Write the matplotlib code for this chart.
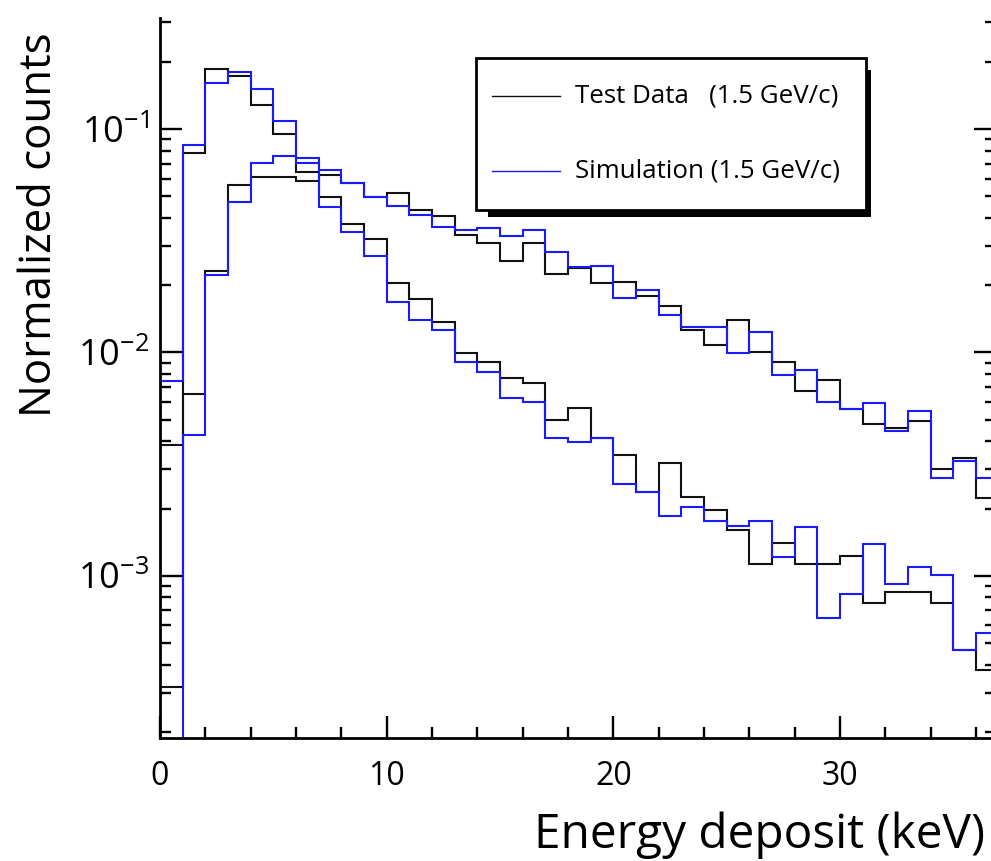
import numpy as np
import matplotlib
matplotlib.use("Agg")
import matplotlib.pyplot as plt
from matplotlib.patches import Rectangle
from matplotlib.lines import Line2D
from matplotlib.ticker import FixedLocator, MultipleLocator

plt.rcParams["font.family"] = ["Open Sans", "DejaVu Sans"]
plt.rcParams["mathtext.fontset"] = "custom"
plt.rcParams["mathtext.rm"] = "Open Sans"
plt.rcParams["mathtext.it"] = "Open Sans:italic"
plt.rcParams["mathtext.bf"] = "Open Sans:bold"

# 1 keV bins from 0 to 37 keV
bin_edges = np.arange(0, 38)

# broad distribution
test_wide = [3.19e-4, 6.53e-3, 0.0231, 0.0561, 0.0610, 0.0611, 0.0587, 0.0622,
             0.0572, 0.0496, 0.0515, 0.0435, 0.0406, 0.0334, 0.0310, 0.0257,
             0.0308, 0.0224, 0.0238, 0.0204, 0.0206, 0.0179, 0.0162, 0.0126,
             0.0108, 0.0140, 0.0100, 0.00908, 0.00672, 0.00751, 0.00556,
             0.00479, 0.00461, 0.00494, 0.00302, 0.00336, 0.00224]
sim_wide = [1e-5, 4.27e-3, 0.0222, 0.0470, 0.0704, 0.0759, 0.0739, 0.0657,
            0.0575, 0.0496, 0.0452, 0.0412, 0.0364, 0.0353, 0.0360, 0.0333,
            0.0355, 0.0282, 0.0242, 0.0244, 0.0176, 0.0190, 0.0147, 0.0130,
            0.0130, 0.00993, 0.0123, 0.00791, 0.00834, 0.00599, 0.00556,
            0.00595, 0.00446, 0.00546, 0.00274, 0.00327, 0.00274]

# narrow (steep) distribution
test_narrow = [3.86e-3, 0.0778, 0.185, 0.173, 0.128, 0.0953, 0.0640, 0.0496,
               0.0374, 0.0322, 0.0205, 0.0174, 0.0137, 0.00995, 0.00902,
               0.00770, 0.00731, 0.00497, 0.00563, 0.00415, 0.00348, 0.00237,
               0.00320, 0.00226, 0.00198, 0.00160, 0.00113, 0.00141, 0.00113,
               0.00113, 0.00123, 0.000754, 0.000845, 0.000845, 0.000754,
               0.000468, 0.000378]
sim_narrow = [7.46e-3, 0.0845, 0.161, 0.180, 0.151, 0.109, 0.0706, 0.0449,
              0.0345, 0.0271, 0.0168, 0.0140, 0.01255, 0.00908, 0.00819,
              0.00622, 0.00597, 0.00416, 0.00398, 0.00415, 0.00259, 0.00237,
              0.00185, 0.00204, 0.00176, 0.00167, 0.00176, 0.00121, 0.00166,
              0.00065, 0.000833, 0.00139, 0.000924, 0.00110, 0.00101,
              0.000468, 0.000555]

legend_labels = ["Test Data   (1.5 GeV/c)", "Simulation (1.5 GeV/c)"]
y_major = [1e-3, 1e-2, 1e-1]
y_major_labels = ["$10^{-3}$", "$10^{-2}$", "$10^{-1}$"]

W, H = 991, 861
fig = plt.figure(figsize=(W / 100, H / 100), dpi=100)


def fx(px):
    return px / W


def fy(py):
    return 1 - py / H


# right spine sits just outside the picture, as in the source
ax = fig.add_axes([fx(160), fy(738), fx(996 - 160), fy(18) - fy(738)])

BLACK = "#111111"
BLUE = "#1a1aff"
for vals, col in [(test_wide, BLACK), (test_narrow, BLACK),
                  (sim_wide, BLUE), (sim_narrow, BLUE)]:
    ax.stairs(vals, bin_edges, baseline=None, color=col, linewidth=1.5)

ax.set_yscale("log")
ax.set_xlim(0, (996 - 160) / 22.67)
ax.set_ylim(1.88e-4, 0.314)

ax.xaxis.set_major_locator(MultipleLocator(10))
ax.xaxis.set_minor_locator(MultipleLocator(2))
ax.yaxis.set_major_locator(FixedLocator(y_major))
ax.set_yticklabels(y_major_labels)
minor = [m * 10.0 ** e for e in (-4, -3, -2, -1) for m in range(2, 10)]
ax.yaxis.set_minor_locator(FixedLocator(minor))
ax.yaxis.set_minor_formatter(plt.NullFormatter())

ax.tick_params(which="both", direction="in", right=True, top=False,
               width=1.7, color="black")
ax.tick_params(which="major", length=16)
ax.tick_params(which="minor", length=8)
ax.tick_params(axis="x", which="major", labelsize=23, pad=16)
ax.tick_params(axis="y", which="major", labelsize=26, pad=8)
for lab in ax.get_yticklabels():
    lab.set_verticalalignment("center_baseline")

ax.spines["top"].set_visible(False)
for s in ("left", "bottom", "right"):
    ax.spines[s].set_linewidth(2)

# axis titles, ROOT style: placed at the axis ends
fig.text(fx(985), fy(835), "Energy deposit (keV)", ha="right", va="center",
         fontsize=34.4)
fig.text(fx(40), fy(32), "Normalized counts", ha="center", va="top",
         rotation=90, fontsize=31.5)

# legend box with a hard black drop shadow
fig.add_artist(Rectangle((fx(488), fy(217)), fx(871 - 488), fy(70) - fy(217),
                         transform=fig.transFigure, facecolor="black",
                         edgecolor="none", zorder=5))
fig.add_artist(Rectangle((fx(476), fy(210)), fx(866 - 476), fy(58) - fy(210),
                         transform=fig.transFigure, facecolor="white",
                         edgecolor="black", linewidth=2, zorder=6))
for (ly, lab, col) in [(96, legend_labels[0], BLACK),
                       (171, legend_labels[1], BLUE)]:
    fig.add_artist(Line2D([fx(492), fx(560)], [fy(ly), fy(ly)],
                          transform=fig.transFigure, color=col,
                          linewidth=1.0, zorder=7))
    fig.text(fx(575), fy(ly), lab, ha="left", va="center", fontsize=18.6,
             zorder=7)

fig.savefig("out.png", dpi=100)
